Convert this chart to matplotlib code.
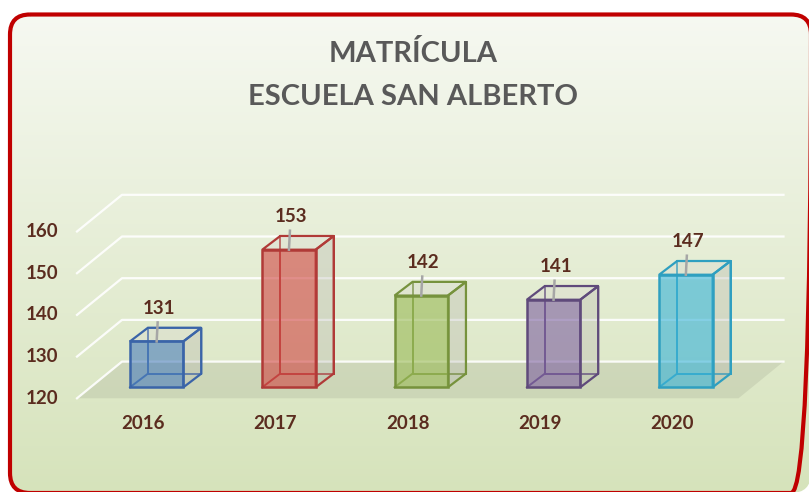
import numpy as np
import matplotlib
matplotlib.use('Agg')
import matplotlib.pyplot as plt
from matplotlib.patches import Polygon, FancyBboxPatch
from matplotlib.colors import to_rgb

# data
years = ['2016', '2017', '2018', '2019', '2020']
enrolment = [131, 153, 142, 141, 147]
y_ticks = [120, 130, 140, 150, 160]

face_colors = ['#4f81bd', '#d04a46', '#9bbb59', '#8064a2', '#3cb4d8']
edge_colors = ['#3a64a8', '#b03a37', '#76923c', '#5f4a7b', '#2f9fc0']

W, H = 809, 492
fig = plt.figure(figsize=(W / 100, H / 100), dpi=100)
fig.patch.set_facecolor('white')

# background: gradient inside a rounded red frame (runs off right/bottom)
bg = fig.add_axes([0, 0, 1, 1])
bg.axis('off')

top_c = np.array(to_rgb('#f7f9f3'))
bot_c = np.array(to_rgb('#d6e3bb'))
t = np.linspace(0, 1, 300)[:, None]
grad = (top_c * (1 - t) + bot_c * t)[:, None, :]
img = bg.imshow(grad, extent=(0, W, H, 0), aspect='auto', zorder=0)
frame = dict(xy=(10, 14.5), width=801, height=478.5, boxstyle='round,pad=0,rounding_size=20')
clip = FancyBboxPatch(fc='none', ec='none', transform=bg.transData, **frame)
img.set_clip_path(clip)
bg.add_patch(FancyBboxPatch(fc='none', ec='#c00000', lw=3, zorder=2, **frame))
bg.set_xlim(0, W)
bg.set_ylim(H, 0)

fig.text(413 / W, 1 - 53 / H, 'MATRÍCULA', ha='center', va='center',
         fontsize=21, fontweight='bold', color='#595959', family='Lato')
fig.text(413 / W, 1 - 97 / H, 'ESCUELA SAN ALBERTO', ha='center', va='center',
         fontsize=21, fontweight='bold', color='#595959', family='Lato')

# main axes = plane of the bar fronts
ax_w, ax_h = 661.5, 166.8
ax = fig.add_axes([90.5 / W, 104.7 / H, ax_w / W, ax_h / H])
ax.axis('off')

PXX = 5 / ax_w      # data units per pixel
PXY = 40 / ax_h
FX, FY = -13.5 * PXX, -11 * PXY     # front edge of floor
BX, BY = 31.5 * PXX, 25.7 * PXY     # back wall
DX, DY = 18 * PXX, 13.7 * PXY       # bar depth
hw = 26.7 * PXX
base = y_ticks[0]
x_lo, x_hi = -0.5, len(years) - 0.5
lab = dict(fontsize=13.5, fontweight='bold', color='#5b2c1f', family='Lato')

# floor
ax.add_patch(Polygon([(x_lo + FX, base + FY), (x_lo + BX, base + BY),
                      (x_hi + BX, base + BY), (x_hi + FX, base + FY)],
                     fc='#8f947f', alpha=0.2, ec='none', zorder=1, clip_on=False))

# gridlines on side and back walls
for v in y_ticks:
    ax.plot([x_lo + FX, x_lo + BX, x_hi + BX], [v + FY, v + BY, v + BY],
            color='white', lw=1.6, alpha=0.9, clip_on=False, zorder=1.5)
    ax.text(x_lo + FX - 19 * PXX, v + FY, str(v), ha='right', va='center', **lab)

for i, (yr, v, fc, ec) in enumerate(zip(years, enrolment, face_colors, edge_colors)):
    x0, x1 = i - hw, i + hw
    back = [(x0 + DX, base + DY), (x1 + DX, base + DY), (x1 + DX, v + DY), (x0 + DX, v + DY)]
    ax.add_patch(Polygon(back, closed=True, fill=False, ec=ec, lw=1.4, zorder=2, clip_on=False))
    ax.plot([x0, x0 + DX], [base, base + DY], color=ec, lw=1.4, zorder=2, clip_on=False)
    side = [(x1, base), (x1 + DX, base + DY), (x1 + DX, v + DY), (x1, v)]
    ax.add_patch(Polygon(side, fc='#b8b8b0', alpha=0.35, ec='none', zorder=3, clip_on=False))
    ax.add_patch(Polygon(side, fill=False, ec=ec, lw=1.6, zorder=3.5, clip_on=False))
    top = [(x0, v), (x1, v), (x1 + DX, v + DY), (x0 + DX, v + DY)]
    ax.add_patch(Polygon(top, fc='#d8d8d0', alpha=0.35, ec='none', zorder=3, clip_on=False))
    ax.add_patch(Polygon(top, fill=False, ec=ec, lw=1.6, zorder=3.5, clip_on=False))
    front = [(x0, base), (x1, base), (x1, v), (x0, v)]
    ax.add_patch(Polygon(front, fc=fc, alpha=0.62, ec='none', zorder=4, clip_on=False))
    ax.add_patch(Polygon(front, fill=False, ec=ec, lw=1.8, zorder=4.5, clip_on=False))

    # leader + value label
    ax.plot([i, i + 1 * PXX], [v, v + 19 * PXY], color='#a6a6a6', lw=1.8,
            zorder=5, clip_on=False)
    ax.text(i + 2 * PXX, v + 33 * PXY, str(v), ha='center', va='center', zorder=6, **lab)

    ax.text(i + FX, base + FY - 25 * PXY, yr, ha='center', va='center', **lab)

ax.set_xlim(x_lo, x_hi)
ax.set_ylim(120, 160)

fig.savefig('out.png', dpi=100)
